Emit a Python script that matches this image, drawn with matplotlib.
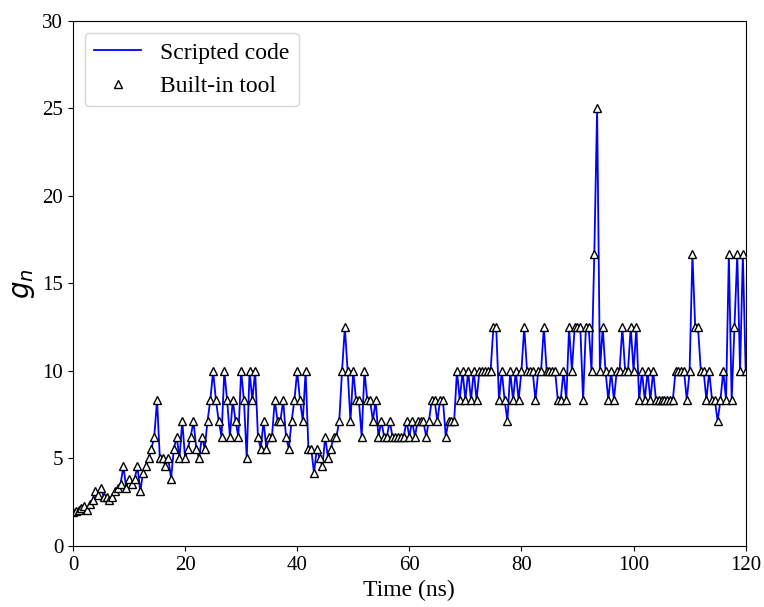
import numpy as np
import matplotlib
matplotlib.use('Agg')
import matplotlib.pyplot as plt

plt.rcParams['font.family'] = ['Liberation Serif', 'DejaVu Serif']

# tempo (ns), passo de 0.5 ns
t = np.arange(0, 120.5, 0.5)

# g_n
g = [
    1.92, 2.0, 2.08, 2.17, 2.27, 2.08, 2.38, 2.63, 3.12, 2.94,
    3.33, 2.78, 2.78, 2.63, 2.78, 3.12, 3.33, 3.57, 4.55, 3.33,
    3.85, 3.57, 3.85, 4.55, 3.12, 4.17, 4.55, 5.0, 5.56, 6.25,
    8.33, 5.0, 5.0, 4.55, 5.0, 3.85, 5.56, 6.25, 5.0, 7.14,
    5.0, 5.56, 6.25, 7.14, 5.56, 5.0, 6.25, 5.56, 7.14, 8.33,
    10.0, 8.33, 7.14, 6.25, 10.0, 8.33, 6.25, 8.33, 7.14, 6.25,
    10.0, 8.33, 5.0, 10.0, 8.33, 10.0, 6.25, 5.56, 7.14, 5.56,
    6.25, 6.25, 8.33, 7.14, 7.14, 8.33, 6.25, 5.56, 7.14, 8.33,
    10.0, 8.33, 7.14, 10.0, 5.56, 5.56, 4.17, 5.56, 5.0, 4.55,
    6.25, 5.0, 5.56, 6.25, 6.25, 7.14, 10.0, 12.5, 10.0, 7.14,
    10.0, 8.33, 8.33, 6.25, 10.0, 8.33, 8.33, 7.14, 8.33, 6.25,
    7.14, 6.25, 6.25, 7.14, 6.25, 6.25, 6.25, 6.25, 6.25, 7.14,
    6.25, 7.14, 6.25, 7.14, 7.14, 7.14, 6.25, 7.14, 8.33, 8.33,
    7.14, 8.33, 8.33, 6.25, 7.14, 7.14, 7.14, 10.0, 8.33, 10.0,
    8.33, 10.0, 8.33, 10.0, 8.33, 10.0, 10.0, 10.0, 10.0, 10.0,
    12.5, 12.5, 8.33, 10.0, 8.33, 7.14, 10.0, 8.33, 10.0, 8.33,
    10.0, 12.5, 10.0, 10.0, 10.0, 8.33, 10.0, 10.0, 12.5, 10.0,
    10.0, 10.0, 10.0, 8.33, 8.33, 10.0, 8.33, 12.5, 10.0, 12.5,
    12.5, 12.5, 8.33, 12.5, 12.5, 10.0, 16.67, 25.0, 10.0, 12.5,
    10.0, 8.33, 10.0, 8.33, 10.0, 10.0, 12.5, 10.0, 10.0, 12.5,
    10.0, 12.5, 8.33, 10.0, 8.33, 10.0, 8.33, 10.0, 8.33, 8.33,
    8.33, 8.33, 8.33, 8.33, 8.33, 10.0, 10.0, 10.0, 10.0, 8.33,
    10.0, 16.67, 12.5, 12.5, 10.0, 10.0, 8.33, 10.0, 8.33, 8.33,
    7.14, 8.33, 10.0, 8.33, 16.67, 8.33, 12.5, 16.67, 10.0, 16.67,
    10.0,
]

fig = plt.figure(figsize=(7.64, 6.07), dpi=100)
ax = fig.add_axes([0.0955, 0.1005, 0.8805, 0.865])

ax.plot(t, g, color='blue', lw=1.3, label='Scripted code')
ax.plot(t, g, ls='none', marker='^', ms=5.5, mfc='white', mec='black',
        mew=1.0, label='Built-in tool')

ax.set_xlim(0, 120)
ax.set_ylim(0, 30)
ax.set_xticks(np.arange(0, 121, 20))
ax.set_yticks(np.arange(0, 31, 5))
ax.tick_params(labelsize=15)
ax.set_xlabel('Time (ns)', fontsize=17)
ax.set_ylabel('$g_n$', fontsize=20)
ax.legend(loc='upper left', fontsize=17)

fig.savefig('out.png', dpi=100)
